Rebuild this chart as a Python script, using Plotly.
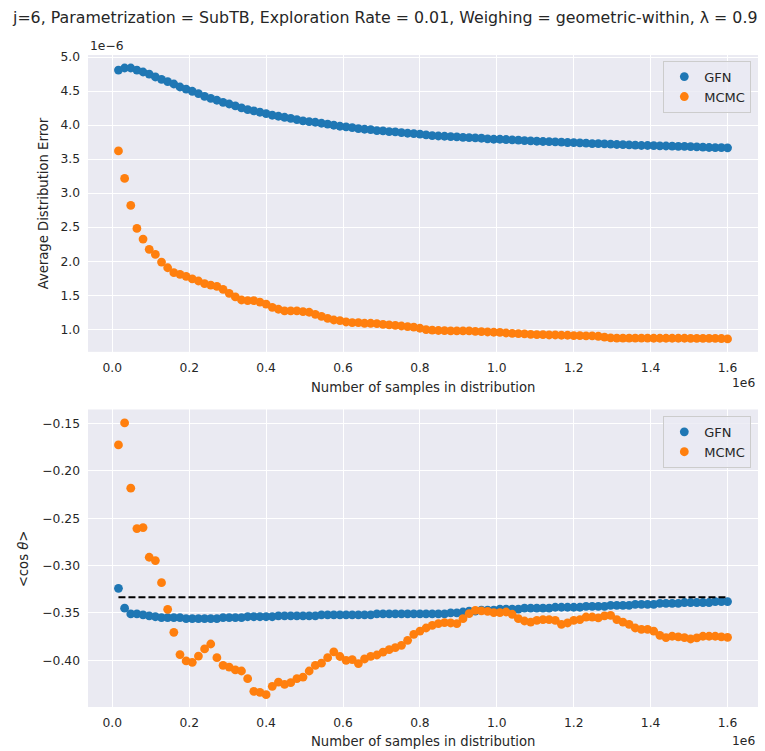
import numpy as np
import plotly.graph_objects as go

# ---------------- data ----------------
n_samples = [16000 * k for k in range(1, 101)]

gfn_err = [4.809, 4.839, 4.839, 4.809, 4.780, 4.750, 4.707, 4.673, 4.639, 4.604,
           4.560, 4.530, 4.497, 4.463, 4.423, 4.394, 4.365, 4.335, 4.310, 4.281,
           4.252, 4.228, 4.208, 4.189, 4.169, 4.145, 4.130, 4.115, 4.100, 4.081,
           4.061, 4.052, 4.042, 4.027, 4.015, 3.998, 3.983, 3.973, 3.964, 3.949,
           3.939, 3.934, 3.920, 3.914, 3.905, 3.900, 3.890, 3.880, 3.876, 3.866,
           3.855, 3.846, 3.840, 3.836, 3.831, 3.826, 3.821, 3.817, 3.812, 3.807,
           3.797, 3.792, 3.792, 3.788, 3.783, 3.778, 3.773, 3.768, 3.763, 3.759,
           3.756, 3.753, 3.749, 3.744, 3.741, 3.739, 3.734, 3.729, 3.727, 3.724,
           3.720, 3.715, 3.712, 3.710, 3.705, 3.700, 3.700, 3.698, 3.695, 3.693,
           3.690, 3.688, 3.686, 3.685, 3.680, 3.676, 3.671, 3.670, 3.668, 3.666]

mcmc_err = [3.621, 3.216, 2.819, 2.482, 2.325, 2.174, 2.100, 1.987, 1.904, 1.831,
            1.807, 1.778, 1.739, 1.709, 1.670, 1.650, 1.630, 1.587, 1.528, 1.475,
            1.430, 1.420, 1.420, 1.400, 1.370, 1.323, 1.294, 1.270, 1.270, 1.270,
            1.260, 1.250, 1.220, 1.190, 1.161, 1.136, 1.126, 1.107, 1.097, 1.097,
            1.088, 1.088, 1.083, 1.073, 1.063, 1.058, 1.048, 1.038, 1.030, 1.015,
            0.995, 0.988, 0.982, 0.980, 0.976, 0.975, 0.975, 0.975, 0.970, 0.965,
            0.960, 0.956, 0.953, 0.945, 0.941, 0.936, 0.931, 0.926, 0.922, 0.921,
            0.916, 0.916, 0.912, 0.912, 0.907, 0.907, 0.902, 0.902, 0.897, 0.885,
            0.872, 0.870, 0.870, 0.870, 0.869, 0.869, 0.869, 0.868, 0.868, 0.868,
            0.868, 0.868, 0.868, 0.867, 0.867, 0.866, 0.866, 0.865, 0.864, 0.858]

gfn_cos = [-0.324, -0.345, -0.351, -0.351, -0.352, -0.353, -0.354, -0.355, -0.355, -0.355,
           -0.355, -0.356, -0.356, -0.356, -0.356, -0.356, -0.356, -0.355, -0.355, -0.355,
           -0.355, -0.354, -0.354, -0.354, -0.354, -0.354, -0.353, -0.353, -0.353, -0.353,
           -0.353, -0.353, -0.353, -0.352, -0.352, -0.352, -0.352, -0.352, -0.352, -0.352,
           -0.352, -0.352, -0.351, -0.351, -0.351, -0.351, -0.351, -0.351, -0.351, -0.351,
           -0.351, -0.351, -0.351, -0.351, -0.350, -0.350, -0.349, -0.348, -0.348, -0.347,
           -0.347, -0.347, -0.346, -0.346, -0.346, -0.346, -0.345, -0.345, -0.345, -0.345,
           -0.345, -0.344, -0.344, -0.344, -0.344, -0.344, -0.343, -0.343, -0.343, -0.343,
           -0.342, -0.342, -0.342, -0.342, -0.341, -0.341, -0.341, -0.341, -0.340, -0.340,
           -0.340, -0.340, -0.339, -0.339, -0.339, -0.339, -0.339, -0.338, -0.338, -0.338]

mcmc_cos = [-0.1726, -0.1494, -0.2183, -0.2609, -0.2599, -0.2912, -0.2947, -0.3180, -0.3462, -0.3705,
            -0.3940, -0.4007, -0.4021, -0.3955, -0.3880, -0.3828, -0.3972, -0.4053, -0.4071, -0.4102,
            -0.4113, -0.4194, -0.4328, -0.4338, -0.4363, -0.4275, -0.4230, -0.4254, -0.4236, -0.4194,
            -0.4177, -0.4113, -0.4053, -0.4030, -0.3972, -0.3910, -0.3960, -0.4000, -0.3993, -0.4035,
            -0.3986, -0.3958, -0.3944, -0.3913, -0.3888, -0.3866, -0.3842, -0.3789, -0.3726, -0.3691,
            -0.3659, -0.3631, -0.3613, -0.3602, -0.3606, -0.3613, -0.3560, -0.3507, -0.3472, -0.3479,
            -0.3483, -0.3496, -0.3496, -0.3490, -0.3514, -0.3560, -0.3585, -0.3596, -0.3578, -0.3570,
            -0.3570, -0.3578, -0.3620, -0.3606, -0.3578, -0.3570, -0.3543, -0.3543, -0.3553, -0.3532,
            -0.3525, -0.3570, -0.3596, -0.3620, -0.3659, -0.3673, -0.3673, -0.3691, -0.3736, -0.3760,
            -0.3746, -0.3753, -0.3760, -0.3775, -0.3764, -0.3746, -0.3746, -0.3746, -0.3753, -0.3757]

reference_cos = -1.0 / 3.0

x_tick_vals = [0, 200000, 400000, 600000, 800000, 1000000, 1200000, 1400000, 1600000]
x_tick_text = ["0.0", "0.2", "0.4", "0.6", "0.8", "1.0", "1.2", "1.4", "1.6"]
err_tick_vals = [1.0, 1.5, 2.0, 2.5, 3.0, 3.5, 4.0, 4.5, 5.0]
err_tick_text = ["1.0", "1.5", "2.0", "2.5", "3.0", "3.5", "4.0", "4.5", "5.0"]
cos_tick_vals = [-0.40, -0.35, -0.30, -0.25, -0.20, -0.15]
cos_tick_text = ["\u22120.40", "\u22120.35", "\u22120.30", "\u22120.25", "\u22120.20", "\u22120.15"]

title_text = "j=6, Parametrization = SubTB, Exploration Rate = 0.01, Weighing = geometric-within, \u03bb = 0.9"

# ---------------- style ----------------
BLUE = "#1f77b4"
ORANGE = "#ff7f0e"
BG = "#EAEAF2"
TXT = "#262626"
FONT = "DejaVu Sans"
MSIZE = 8.8
scale = 1e-6

fig = go.Figure()

fig.add_trace(go.Scatter(x=n_samples, y=np.array(gfn_err) * scale, mode="markers",
                         marker=dict(color=BLUE, size=MSIZE, line=dict(width=0)),
                         name="GFN", xaxis="x", yaxis="y", legend="legend"))
fig.add_trace(go.Scatter(x=n_samples, y=np.array(mcmc_err) * scale, mode="markers",
                         marker=dict(color=ORANGE, size=MSIZE, line=dict(width=0)),
                         name="MCMC", xaxis="x", yaxis="y", legend="legend"))

fig.add_trace(go.Scatter(x=n_samples, y=gfn_cos, mode="markers",
                         marker=dict(color=BLUE, size=MSIZE, line=dict(width=0)),
                         name="GFN", xaxis="x2", yaxis="y2", legend="legend2"))
fig.add_trace(go.Scatter(x=n_samples, y=mcmc_cos, mode="markers",
                         marker=dict(color=ORANGE, size=MSIZE, line=dict(width=0)),
                         name="MCMC", xaxis="x2", yaxis="y2", legend="legend2"))
fig.add_trace(go.Scatter(x=[n_samples[0], n_samples[-1]], y=[reference_cos, reference_cos],
                         mode="lines", line=dict(color="black", width=2, dash="7px,3px"),
                         showlegend=False, xaxis="x2", yaxis="y2", hoverinfo="skip"))

axis_common = dict(showgrid=True, gridcolor="white", gridwidth=1.3, zeroline=False,
                   showline=False, ticks="", tickfont=dict(family=FONT, size=12.3, color=TXT),
                   ticklabelstandoff=7)

x_range = [-63200, 1679200]

fig.update_layout(
    width=765, height=751,
    margin=dict(l=88, r=7.3, t=55, b=44.3),
    paper_bgcolor="white", plot_bgcolor=BG,
    font=dict(family=FONT, color=TXT),
    xaxis=dict(domain=[0, 1], anchor="y", range=x_range, tickvals=x_tick_vals,
               ticktext=x_tick_text, **axis_common),
    yaxis=dict(domain=[0.5447, 1], anchor="x", range=[0.668e-6, 5.03e-6],
               tickvals=[v * scale for v in err_tick_vals], ticktext=err_tick_text, **axis_common),
    xaxis2=dict(domain=[0, 1], anchor="y2", range=x_range, tickvals=x_tick_vals,
                ticktext=x_tick_text, **axis_common),
    yaxis2=dict(domain=[0, 0.4563], anchor="x2", range=[-0.4493, -0.1352],
                tickvals=cos_tick_vals, ticktext=cos_tick_text, **axis_common),
    legend=dict(x=0.99, y=0.9913, xanchor="right", yanchor="top",
                bgcolor="rgba(234,234,242,0.8)", bordercolor="#cccccc", borderwidth=1,
                font=dict(family=FONT, size=13, color=TXT), tracegroupgap=0),
    legend2=dict(x=0.99, y=0.4465, xanchor="right", yanchor="top",
                 bgcolor="rgba(234,234,242,0.8)", bordercolor="#cccccc", borderwidth=1,
                 font=dict(family=FONT, size=13, color=TXT), tracegroupgap=0),
    showlegend=True,
)

def px_to_paper(xp, yp):
    return (xp - 88) / 669.7, (706.7 - yp) / 651.7

annotations = []
# suptitle
tx, ty = px_to_paper(385, 18)
annotations.append(dict(text=title_text, x=tx, y=ty, xref="paper", yref="paper",
                        showarrow=False, xanchor="center", yanchor="middle",
                        font=dict(family=FONT, size=15.8, color=TXT)))
# x axis titles
for ypx in (387, 741):
    ax_, ay_ = px_to_paper(422.9, ypx)
    annotations.append(dict(text="Number of samples in distribution", x=ax_, y=ay_,
                            xref="paper", yref="paper", showarrow=False,
                            xanchor="center", yanchor="middle",
                            font=dict(family=FONT, size=13.2, color=TXT)))
    ox, oy = px_to_paper(757, ypx - 4 if ypx == 387 else ypx)
    annotations.append(dict(text="1e6", x=ox, y=oy, xref="paper", yref="paper",
                            showarrow=False, xanchor="right", yanchor="middle",
                            font=dict(family=FONT, size=12.3, color=TXT)))
# offset text for top y axis
ox, oy = px_to_paper(88, 46.5)
annotations.append(dict(text="1e\u22126", x=ox, y=oy, xref="paper", yref="paper",
                        showarrow=False, xanchor="left", yanchor="middle",
                        font=dict(family=FONT, size=12.3, color=TXT)))
# y axis titles
yx, yy = px_to_paper(43, 203.3)
annotations.append(dict(text="Average Distribution Error", x=yx, y=yy, xref="paper", yref="paper",
                        showarrow=False, textangle=-90, xanchor="center", yanchor="middle",
                        font=dict(family=FONT, size=13.2, color=TXT)))
yx, yy = px_to_paper(23, 558)
annotations.append(dict(text="&lt;cos <i>\u03b8</i>&gt;", x=yx, y=yy, xref="paper", yref="paper",
                        showarrow=False, textangle=-90, xanchor="center", yanchor="middle",
                        font=dict(family=FONT, size=13.2, color=TXT)))

fig.update_layout(annotations=annotations)

# remove the browser's default 8px body margin so the figure sits at the page origin
fig.write_html("out.html", config={"displayModeBar": False},
               post_script="document.body.style.margin='0';")
